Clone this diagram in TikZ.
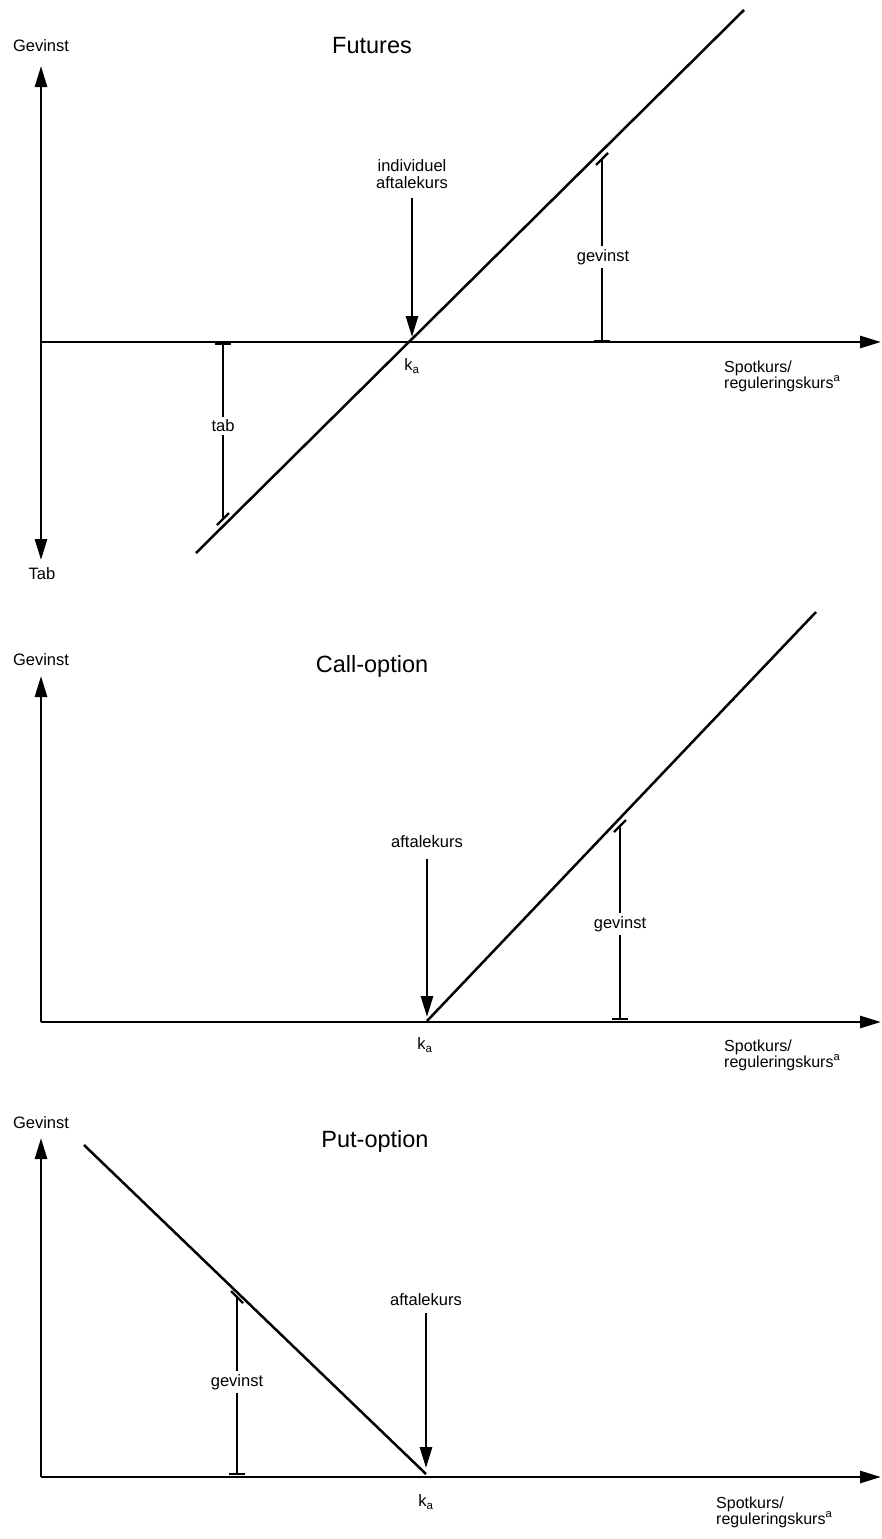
\documentclass[tikz,border=0pt]{standalone}
\usepackage{fontspec}
\setmainfont{Liberation Sans}
\usetikzlibrary{arrows.meta,calc}
\begin{document}
\begin{tikzpicture}[x=1pt,y=-1pt,
  axis/.style={line width=2.8pt,-{Triangle[length=21pt,width=12pt]}},
  payoff/.style={line width=2.5pt},
  pointer/.style={line width=2.8pt,-{Triangle[length=21pt,width=12pt]}},
  bracket/.style={line width=2.2pt},
  lbl/.style={font=\fontsize{16.5}{16.5}\selectfont, inner sep=1pt},
  ttl/.style={font=\fontsize{23.5}{23.5}\selectfont, inner sep=0pt},
  gap/.style={font=\fontsize{16.5}{16.5}\selectfont, fill=white, inner sep=3pt},
  multi/.style={align=center, font=\fontsize{16.5}{17}\selectfont, inner sep=1pt},
  axlbl/.style={align=left, anchor=west, font=\fontsize{16}{16}\selectfont, inner sep=0pt}
]
\useasboundingbox[fill=white] (0,0) rectangle (881,1539);

% ---------------- Futures ----------------
\coordinate (o1) at (41,342);
\coordinate (yt1) at (41,66);
\coordinate (yb1) at (41,560);
\coordinate (xe1) at (881,342);
\draw[axis] (o1) -- (yt1);
\draw[axis] (o1) -- (yb1);
\draw[axis] (o1) -- (xe1);
\node[lbl] (g1) at (41,46) {Gevinst};
\node[lbl] (tab1) at (42,574) {Tab};
\node[ttl] (f) at (372,46) {Futures};
\coordinate (fa) at (196,553);
\coordinate (fb) at (744,10);
\draw[payoff] (fa) -- (fb);
\node[lbl] (k1) at (412,366) {k\textsubscript{a}};
\node[multi] (ia) at (412,174) {individuel\\aftalekurs};
\coordinate (p1) at (412,337);
\draw[pointer,shorten <=8pt] (ia.south) -- (p1);
\node[axlbl] (s1) at (724,376) {Spotkurs/\\reguleringskurs\textsuperscript{a}};
% tab bracket
\coordinate (tabT) at (223,344);
\coordinate (tabB) at (223,519);
\draw[bracket] (tabT) -- (tabB);
\draw[bracket] ($(tabT)+(-8,0)$) -- ($(tabT)+(8,0)$);
\draw[bracket] ($(tabB)+(-6,6)$) -- ($(tabB)+(6,-6)$);
\node[gap] (tl) at (223,426) {tab};
% gevinst bracket
\coordinate (gT1) at (602,159);
\coordinate (gB1) at (602,341);
\draw[bracket] (gT1) -- (gB1);
\draw[bracket] ($(gT1)+(-6,6)$) -- ($(gT1)+(6,-6)$);
\draw[bracket] ($(gB1)+(-8,0)$) -- ($(gB1)+(8,0)$);
\node[gap] (gl1) at (603,257) {gevinst};

% ---------------- Call-option ----------------
\coordinate (o2) at (41,1022);
\coordinate (yt2) at (41,676);
\coordinate (xe2) at (881,1022);
\draw[axis] (o2) -- (yt2);
\draw[axis] (o2) -- (xe2);
\node[lbl] (g2) at (41,660) {Gevinst};
\node[ttl] (c) at (372,666) {Call-option};
\coordinate (ca) at (427,1021);
\coordinate (cb) at (816,612);
\draw[payoff] (ca) -- (cb);
\node[lbl] (k2) at (425,1045) {k\textsubscript{a}};
\node[multi] (a2) at (427,842) {aftalekurs};
\coordinate (p2) at (427,1017);
\draw[pointer,shorten <=10pt] (a2.south) -- (p2);
\node[axlbl] (s2) at (724,1055) {Spotkurs/\\reguleringskurs\textsuperscript{a}};
\coordinate (gT2) at (620,826);
\coordinate (gB2) at (620,1019);
\draw[bracket] (gT2) -- (gB2);
\draw[bracket] ($(gT2)+(-6,6)$) -- ($(gT2)+(6,-6)$);
\draw[bracket] ($(gB2)+(-8,0)$) -- ($(gB2)+(8,0)$);
\node[gap] (gl2) at (620,924) {gevinst};

% ---------------- Put-option ----------------
\coordinate (o3) at (41,1477);
\coordinate (yt3) at (41,1138);
\coordinate (xe3) at (881,1477);
\draw[axis] (o3) -- (yt3);
\draw[axis] (o3) -- (xe3);
\node[lbl] (g3) at (41,1123) {Gevinst};
\node[ttl] (pt) at (375,1141) {Put-option};
\coordinate (pa) at (84,1145);
\coordinate (pb) at (426,1474);
\draw[payoff] (pa) -- (pb);
\node[lbl] (k3) at (426,1502) {k\textsubscript{a}};
\node[multi] (a3) at (426,1300) {aftalekurs};
\coordinate (p3) at (426,1468);
\draw[pointer,shorten <=6pt] (a3.south) -- (p3);
\node[axlbl] (s3) at (716,1512) {Spotkurs/\\reguleringskurs\textsuperscript{a}};
\coordinate (gT3) at (237,1297);
\coordinate (gB3) at (237,1474);
\draw[bracket] (gT3) -- (gB3);
\draw[bracket] ($(gT3)+(-6,-6)$) -- ($(gT3)+(6,6)$);
\draw[bracket] ($(gB3)+(-8,0)$) -- ($(gB3)+(8,0)$);
\node[gap] (gl3) at (237,1382) {gevinst};
\end{tikzpicture}
\end{document}
